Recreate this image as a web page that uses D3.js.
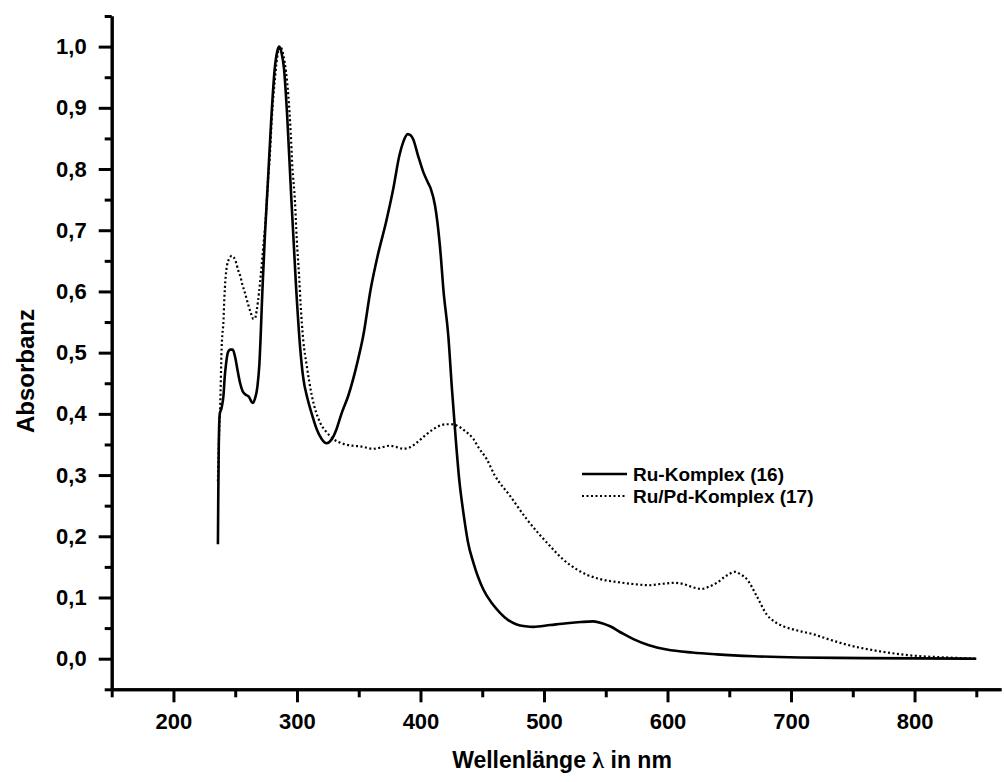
<!DOCTYPE html>
<html>
<head>
<meta charset="utf-8">
<script src="https://cdn.jsdelivr.net/npm/d3@7/dist/d3.min.js"></script>
<style>
  html, body { margin: 0; padding: 0; background: #fff; }
  svg { display: block; }
  text { font-family: "Liberation Sans", Arial, sans-serif; font-weight: bold; fill: #000; }
</style>
</head>
<body>
<svg id="chart" width="1004" height="782"></svg>
<script>
// ---------- data ----------
const wavelengthRu = [236.0, 236.3, 236.7, 237.5, 239, 240.5, 241.5, 242.5, 244, 246, 248, 250, 252, 254, 256, 258, 261, 264, 266, 268, 269.5, 272.2, 274, 276.3, 279.2, 282, 284, 285.7, 287.5, 289.5, 292.2, 294.9, 299.2, 302.5, 305, 308.5, 312, 316, 320, 324, 328, 332, 336, 341.6, 349, 353.7, 359.7, 365.4, 372.1, 378, 382.9, 386, 389.7, 392, 394, 398, 402.3, 406, 408.3, 411.8, 413.7, 416.4, 418.5, 422.5, 425.5, 428.5, 431.5, 434.7, 438.5, 442.8, 450.9, 458, 464.4, 471, 477.9, 485, 491.4, 505, 518.4, 530, 540, 547, 553.5, 563, 572.4, 585, 599.4, 620, 639.9, 670, 707.3, 760, 850];
const absorbanceRu = [0.187, 0.27, 0.35, 0.40, 0.41, 0.43, 0.46, 0.48, 0.50, 0.505, 0.505, 0.492, 0.47, 0.45, 0.437, 0.432, 0.428, 0.418, 0.425, 0.445, 0.479, 0.61, 0.69, 0.773, 0.882, 0.964, 0.992, 1.0, 0.99, 0.964, 0.882, 0.773, 0.61, 0.51, 0.46, 0.425, 0.40, 0.375, 0.359, 0.352, 0.358, 0.375, 0.40, 0.43, 0.485, 0.528, 0.604, 0.659, 0.713, 0.768, 0.822, 0.844, 0.857, 0.855, 0.849, 0.822, 0.795, 0.778, 0.768, 0.74, 0.713, 0.659, 0.604, 0.528, 0.44, 0.36, 0.29, 0.239, 0.19, 0.157, 0.113, 0.09, 0.075, 0.063, 0.056, 0.053, 0.052, 0.055, 0.058, 0.06, 0.061, 0.058, 0.053, 0.042, 0.032, 0.022, 0.015, 0.01, 0.007, 0.004, 0.002, 0.001, 0.0];

const wavelengthRuPd = [236.0, 236.5, 237, 237.8, 239, 240.5, 241.3, 244, 247.2, 250.6, 252.5, 254.4, 255.8, 257.4, 260.6, 262.6, 264.7, 266, 267.4, 269.3, 270.9, 272.8, 274.7, 276.3, 278.2, 279.6, 282.2, 284.5, 286.3, 289, 291.1, 293, 294.9, 296.2, 298.4, 299.8, 301.7, 303, 305.1, 307.9, 312, 318.7, 324, 329.4, 337.5, 345, 351, 361.8, 368, 375.3, 380, 386, 391, 397, 404, 410.4, 416, 421.2, 425, 429.3, 436, 442.8, 447, 453.6, 460, 472.5, 486, 504.9, 515, 526.5, 535, 545.4, 560, 572.4, 585, 594, 599.4, 605, 612.8, 620, 627.7, 634, 639.9, 648, 654.7, 659, 664.2, 672.3, 680.4, 687, 693.8, 707.3, 718, 730, 745, 772, 799, 826, 850];
const absorbanceRuPd = [0.29, 0.33, 0.37, 0.41, 0.507, 0.553, 0.593, 0.648, 0.658, 0.648, 0.634, 0.623, 0.611, 0.601, 0.578, 0.565, 0.555, 0.556, 0.569, 0.599, 0.631, 0.675, 0.719, 0.773, 0.828, 0.882, 0.948, 0.99, 1.0, 0.986, 0.959, 0.92, 0.86, 0.806, 0.746, 0.686, 0.626, 0.577, 0.52, 0.479, 0.43, 0.386, 0.37, 0.359, 0.351, 0.348, 0.347, 0.343, 0.345, 0.348, 0.346, 0.343, 0.345, 0.353, 0.365, 0.375, 0.381, 0.383, 0.383, 0.381, 0.372, 0.359, 0.345, 0.326, 0.30, 0.266, 0.228, 0.184, 0.163, 0.146, 0.137, 0.13, 0.125, 0.122, 0.12, 0.122, 0.123, 0.124, 0.122, 0.117, 0.114, 0.118, 0.124, 0.136, 0.142, 0.138, 0.13, 0.102, 0.072, 0.06, 0.053, 0.045, 0.04, 0.032, 0.023, 0.012, 0.005, 0.002, 0.0];

const xMajorTicks = [200, 300, 400, 500, 600, 700, 800];
const xMinorTicks = [150, 250, 350, 450, 550, 650, 750, 850];
const yMajorTicks = [0.0, 0.1, 0.2, 0.3, 0.4, 0.5, 0.6, 0.7, 0.8, 0.9, 1.0];
const yMinorTicks = [-0.05, 0.05, 0.15, 0.25, 0.35, 0.45, 0.55, 0.65, 0.75, 0.85, 0.95, 1.05];

const seriesNames = ["Ru-Komplex (16)", "Ru/Pd-Komplex (17)"];
const xTitleParts = ["Wellenlänge ", "λ", " in nm"];
const yTitle = "Absorbanz";

// ---------- layout ----------
const svg = d3.select("#chart");
const plotLeft = 111.7, plotRight = 1001, plotTop = 16, plotBottom = 689.3;

const x = d3.scaleLinear().domain([150, 870]).range([plotLeft, plotRight]);
const y = d3.scaleLinear().domain([-0.05, 1.05]).range([plotBottom, plotTop]);

const fmt = v => d3.format(".1f")(v).replace(".", ",");

// axes
const gx = svg.append("g").attr("transform", `translate(0,${plotBottom})`);
gx.call(d3.axisBottom(x).tickValues(xMajorTicks).tickSize(13).tickPadding(11).tickSizeOuter(0).tickFormat(d3.format("d")));
const gxm = svg.append("g").attr("transform", `translate(0,${plotBottom})`);
gxm.call(d3.axisBottom(x).tickValues(xMinorTicks).tickSize(8).tickSizeOuter(0).tickFormat(""));

const gy = svg.append("g").attr("transform", `translate(${plotLeft},0)`);
gy.call(d3.axisLeft(y).tickValues(yMajorTicks).tickSize(13).tickPadding(12).tickSizeOuter(0).tickFormat(fmt));
const gym = svg.append("g").attr("transform", `translate(${plotLeft},0)`);
gym.call(d3.axisLeft(y).tickValues(yMinorTicks).tickSize(7).tickSizeOuter(0).tickFormat(""));

svg.selectAll(".domain").attr("stroke", "#000").attr("stroke-width", 3);
svg.selectAll(".tick line").attr("stroke", "#000").attr("stroke-width", 3);
svg.selectAll(".tick text")
  .style("font-family", '"Liberation Sans", Arial, sans-serif')
  .style("font-weight", "bold")
  .style("font-size", "22px")
  .attr("fill", "#000");

// axis titles
const xt = svg.append("text")
  .attr("x", 562).attr("y", 768)
  .attr("text-anchor", "middle")
  .style("font-size", "23px");
xt.append("tspan").text(xTitleParts[0]);
xt.append("tspan").style("font-family", '"Liberation Serif", "DejaVu Serif", serif').style("font-size", "24px").text(xTitleParts[1]);
xt.append("tspan").text(xTitleParts[2]);

svg.append("text")
  .attr("transform", `translate(34,371) rotate(-90)`)
  .attr("text-anchor", "middle")
  .style("font-size", "24px")
  .text(yTitle);

// curves
const line = d3.line()
  .x(d => x(d[0]))
  .y(d => y(d[1]))
  .curve(d3.curveMonotoneX);

const dataRu = wavelengthRu.map((w, i) => [w, absorbanceRu[i]]);
const dataRuPd = wavelengthRuPd.map((w, i) => [w, absorbanceRuPd[i]]);

svg.append("path")
  .datum(dataRuPd)
  .attr("fill", "none")
  .attr("stroke", "#000")
  .attr("stroke-width", 2.2)
  .attr("stroke-dasharray", "2,2.5")
  .attr("d", line);

svg.append("path")
  .datum(dataRu)
  .attr("fill", "none")
  .attr("stroke", "#000")
  .attr("stroke-width", 2.6)
  .attr("stroke-linejoin", "round")
  .attr("d", line);

// legend
const legend = svg.append("g");
const legendRows = [
  { name: seriesNames[0], dash: null, y: 474 },
  { name: seriesNames[1], dash: "2,2.5", y: 496 }
];
legendRows.forEach(r => {
  legend.append("line")
    .attr("x1", 582).attr("x2", 627)
    .attr("y1", r.y).attr("y2", r.y)
    .attr("stroke", "#000")
    .attr("stroke-width", r.dash ? 2.2 : 2.6)
    .attr("stroke-dasharray", r.dash);
  legend.append("text")
    .attr("x", 633).attr("y", r.y)
    .attr("dy", "0.35em")
    .style("font-size", "19px")
    .text(r.name);
});
</script>
</body>
</html>
